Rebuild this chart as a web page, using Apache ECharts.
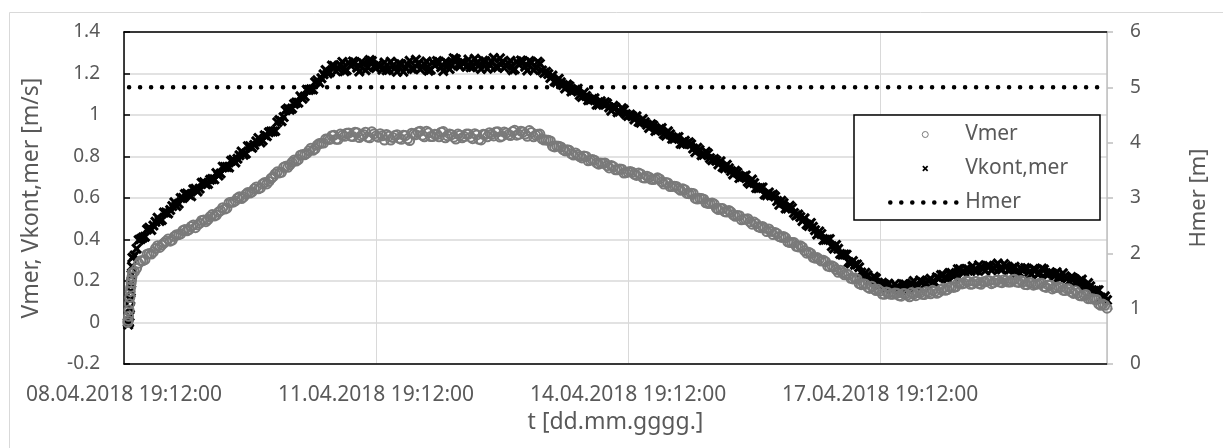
<!DOCTYPE html>
<html><head><meta charset="utf-8">
<script src="https://cdn.jsdelivr.net/npm/echarts@6/dist/echarts.min.js"></script>
<style>html,body{margin:0;padding:0;background:#fff}#c{width:1223px;height:448px}</style>
</head><body><div id="c"></div>
<script>
// time axis: days since 08.04.2018 19:12:00
const xTickLabels = ['08.04.2018 19:12:00','11.04.2018 19:12:00','14.04.2018 19:12:00','17.04.2018 19:12:00'];
const xMin = 0, xMax = 11.7, xInterval = 3;
const yLeftTicks = [-0.2, 0, 0.2, 0.4, 0.6, 0.8, 1, 1.2, 1.4];
const yRightTicks = [0, 1, 2, 3, 4, 5, 6];

// initial steep rise (days, values)
const rampT     = [0.045, 0.05, 0.055, 0.06, 0.065, 0.07, 0.075, 0.08, 0.085, 0.09, 0.095];
const rampVmer  = [0.0, 0.01, 0.03, 0.06, 0.09, 0.12, 0.15, 0.17, 0.19, 0.205, 0.22];
const rampVkont = [0.0, -0.01, 0.005, 0.0, 0.03, 0.07, 0.11, 0.15, 0.19, 0.23, 0.27];

// samples A: from tA with step dt (days); samples B: from tB with step dt
const tA = 0.10, tB = 0.125, dt = 0.05;
const vmer = [
0.241,0.261,0.298,0.303,0.332,0.34,0.37,0.373,0.392,0.392,
0.415,0.423,0.443,0.442,0.463,0.457,0.478,0.494,0.496,0.52,
0.518,0.539,0.547,0.577,0.58,0.599,0.597,0.618,0.624,0.644,
0.644,0.668,0.668,0.694,0.716,0.721,0.748,0.748,0.772,0.778,
0.806,0.808,0.828,0.83,0.855,0.864,0.884,0.882,0.903,0.883,
0.902,0.912,0.898,0.917,0.891,0.906,0.894,0.919,0.899,0.91,
0.879,0.898,0.891,0.905,0.883,0.901,0.877,0.909,0.918,0.902,
0.922,0.896,0.907,0.895,0.92,0.90,0.905,0.884,0.903,0.896,
0.908,0.886,0.904,0.88,0.906,0.915,0.899,0.919,0.898,0.913,
0.901,0.926,0.907,0.918,0.897,0.916,0.903,0.908,0.879,0.878,
0.85,0.851,0.846,0.827,0.83,0.807,0.808,0.793,0.80,0.782,
0.782,0.763,0.768,0.756,0.757,0.736,0.74,0.72,0.725,0.724,
0.709,0.716,0.696,0.70,0.689,0.697,0.678,0.675,0.655,0.657,
0.645,0.644,0.622,0.623,0.598,0.599,0.594,0.574,0.576,0.551,
0.55,0.534,0.54,0.519,0.516,0.495,0.498,0.485,0.484,0.461,
0.463,0.438,0.439,0.434,0.414,0.415,0.389,0.386,0.367,0.37,
0.346,0.339,0.314,0.313,0.296,0.293,0.269,0.268,0.242,0.241,
0.235,0.213,0.214,0.188,0.187,0.17,0.175,0.154,0.152,0.136,
0.143,0.136,0.141,0.127,0.138,0.124,0.137,0.144,0.136,0.15,
0.138,0.15,0.146,0.165,0.158,0.172,0.172,0.189,0.189,0.198,
0.186,0.198,0.184,0.196,0.201,0.192,0.205,0.192,0.202,0.195,
0.208,0.193,0.196,0.182,0.19,0.184,0.189,0.173,0.181,0.162,
0.169,0.169,0.154,0.161,0.14,0.142,0.128,0.135,0.115,0.112,
0.09,0.089,0.069
];
const vmerB = [
0.245,0.285,0.298,0.329,0.33,0.357,0.362,0.383,0.402,0.397,
0.423,0.427,0.448,0.448,0.47,0.47,0.492,0.486,0.51,0.513,
0.532,0.553,0.551,0.58,0.586,0.606,0.605,0.627,0.629,0.653,
0.649,0.675,0.68,0.703,0.726,0.724,0.753,0.76,0.783,0.785,
0.81,0.815,0.84,0.837,0.863,0.865,0.884,0.90,0.883,0.908,
0.897,0.913,0.896,0.914,0.90,0.917,0.89,0.909,0.893,0.90,
0.906,0.879,0.901,0.888,0.903,0.885,0.912,0.905,0.922,0.895,
0.914,0.896,0.906,0.917,0.89,0.909,0.893,0.908,0.89,0.908,
0.893,0.91,0.883,0.907,0.895,0.907,0.918,0.894,0.918,0.905,
0.92,0.903,0.922,0.908,0.925,0.895,0.907,0.885,0.88,0.875,
0.846,0.85,0.833,0.833,0.813,0.817,0.80,0.803,0.779,0.785,
0.769,0.769,0.769,0.745,0.751,0.736,0.739,0.722,0.728,0.714,
0.72,0.698,0.705,0.69,0.692,0.692,0.667,0.672,0.656,0.656,
0.637,0.64,0.621,0.622,0.595,0.597,0.577,0.574,0.571,0.544,
0.549,0.532,0.532,0.512,0.515,0.497,0.50,0.474,0.476,0.457,
0.454,0.451,0.424,0.428,0.41,0.408,0.385,0.385,0.364,0.363,
0.334,0.333,0.31,0.305,0.30,0.272,0.274,0.255,0.252,0.23,
0.23,0.21,0.21,0.182,0.184,0.164,0.162,0.16,0.137,0.147,
0.136,0.142,0.129,0.14,0.132,0.144,0.129,0.143,0.135,0.145,
0.155,0.141,0.158,0.155,0.17,0.169,0.19,0.186,0.20,0.184,
0.197,0.188,0.196,0.203,0.187,0.202,0.195,0.206,0.195,0.206,
0.195,0.203,0.183,0.193,0.18,0.185,0.189,0.169,0.179,0.167,
0.172,0.156,0.163,0.148,0.153,0.129,0.133,0.115,0.114,0.111,
0.083,0.083
];
const vkont = [
0.312,0.356,0.403,0.413,0.457,0.467,0.505,0.494,0.53,0.542,
0.579,0.572,0.60,0.622,0.609,0.644,0.645,0.676,0.668,0.692,
0.72,0.718,0.749,0.747,0.784,0.789,0.824,0.814,0.85,0.856,
0.889,0.877,0.898,0.921,0.923,0.976,0.99,1.031,1.031,1.06,
1.09,1.089,1.121,1.123,1.167,1.177,1.217,1.206,1.236,1.223,
1.256,1.216,1.238,1.253,1.21,1.248,1.23,1.26,1.226,1.237,
1.253,1.218,1.238,1.208,1.245,1.228,1.261,1.222,1.248,1.23,
1.258,1.218,1.24,1.255,1.212,1.25,1.239,1.269,1.235,1.251,
1.267,1.232,1.252,1.222,1.259,1.242,1.275,1.229,1.255,1.237,
1.261,1.221,1.243,1.258,1.215,1.253,1.227,1.247,1.203,1.197,
1.19,1.157,1.158,1.128,1.139,1.118,1.127,1.087,1.092,1.072,
1.081,1.049,1.054,1.055,1.021,1.036,1.017,1.025,0.995,0.994,
0.994,0.963,0.965,0.937,0.949,0.928,0.937,0.90,0.907,0.886,
0.894,0.86,0.863,0.859,0.821,0.831,0.808,0.814,0.782,0.779,
0.777,0.743,0.743,0.713,0.723,0.701,0.709,0.669,0.672,0.647,
0.651,0.613,0.612,0.607,0.567,0.576,0.55,0.552,0.516,0.508,
0.502,0.465,0.461,0.424,0.427,0.399,0.402,0.356,0.355,0.327,
0.327,0.284,0.278,0.266,0.22,0.228,0.205,0.213,0.183,0.184,
0.187,0.163,0.173,0.158,0.183,0.177,0.20,0.175,0.195,0.189,
0.211,0.193,0.213,0.229,0.209,0.238,0.233,0.257,0.243,0.257,
0.271,0.252,0.266,0.249,0.272,0.263,0.284,0.256,0.271,0.256,
0.269,0.242,0.252,0.259,0.232,0.253,0.24,0.255,0.231,0.236,
0.242,0.216,0.223,0.198,0.213,0.195,0.207,0.169,0.175,0.152,
0.156,0.115,0.108
];
const vkontB = [
0.323,0.397,0.41,0.448,0.446,0.485,0.489,0.53,0.525,0.561,
0.561,0.60,0.619,0.614,0.642,0.631,0.673,0.666,0.688,0.69,
0.708,0.751,0.75,0.779,0.771,0.806,0.808,0.85,0.842,0.873,
0.868,0.902,0.917,0.92,0.965,0.97,1.023,1.025,1.053,1.059,
1.078,1.122,1.124,1.158,1.156,1.196,1.20,1.238,1.211,1.241,
1.211,1.252,1.258,1.228,1.255,1.216,1.265,1.233,1.245,1.218,
1.216,1.257,1.226,1.248,1.209,1.243,1.223,1.266,1.22,1.245,
1.213,1.254,1.26,1.23,1.257,1.222,1.274,1.242,1.256,1.232,
1.23,1.271,1.24,1.262,1.223,1.257,1.233,1.273,1.227,1.25,
1.216,1.257,1.263,1.233,1.26,1.217,1.257,1.215,1.208,1.178,
1.162,1.175,1.145,1.147,1.113,1.122,1.096,1.108,1.071,1.077,
1.05,1.066,1.062,1.036,1.044,1.013,1.033,1.004,1.002,0.978,
0.967,0.981,0.953,0.956,0.923,0.932,0.908,0.922,0.885,0.891,
0.862,0.876,0.869,0.838,0.842,0.806,0.823,0.792,0.788,0.762,
0.749,0.76,0.73,0.731,0.696,0.704,0.678,0.689,0.648,0.65,
0.617,0.627,0.617,0.585,0.587,0.55,0.563,0.528,0.52,0.489,
0.472,0.48,0.445,0.439,0.397,0.40,0.368,0.374,0.33,0.328,
0.291,0.296,0.28,0.241,0.24,0.203,0.221,0.192,0.191,0.17,
0.164,0.185,0.168,0.184,0.164,0.188,0.177,0.203,0.181,0.201,
0.187,0.218,0.229,0.217,0.239,0.222,0.257,0.244,0.258,0.248,
0.25,0.276,0.26,0.274,0.252,0.273,0.259,0.282,0.252,0.263,
0.241,0.262,0.263,0.244,0.258,0.233,0.26,0.237,0.241,0.223,
0.218,0.237,0.213,0.219,0.188,0.20,0.177,0.19,0.152,0.155,
0.121,0.126
];
// water level (right axis)
const hmerT = [0.06, 11.7];
const hmerV = [5, 5];

function build(rampV, a, b) {
  const out = rampT.map((t, i) => [t, rampV[i]]);
  a.forEach((v, i) => out.push([+(tA + dt * i).toFixed(3), v]));
  b.forEach((v, i) => out.push([+(tB + dt * i).toFixed(3), v]));
  return out;
}
const vmerData = build(rampVmer, vmer, vmerB);
const vkontData = build(rampVkont, vkont, vkontB);
const hmerData = hmerT.map((t, i) => [t, hmerV[i]]);

const TXT = '#595959', GRID = '#d9d9d9', FONT = 'Noto Sans';
const xShape = 'path://M0,2 L2,0 L5,3 L8,0 L10,2 L7,5 L10,8 L8,10 L5,7 L2,10 L0,8 L3,5 Z';
const dotLine = {color: '#000', width: 4.5, type: [0.1, 10.9], cap: 'round'};

const chart = echarts.init(document.getElementById('c'), null, {renderer: 'canvas'});
chart.setOption({
  animation: false,
  backgroundColor: '#fff',
  textStyle: {fontFamily: FONT},
  grid: {left: 124, right: 116, top: 32, bottom: 84, containLabel: false},
  graphic: {elements: [
    {type: 'rect', left: 7, top: 10, z: -1, silent: true,
     shape: {x: 0, y: 0, width: 1240, height: 460},
     style: {fill: 'none', stroke: '#d9d9d9', lineWidth: 1}},
    {type: 'rect', z: 3, silent: true,
     shape: {x: 854, y: 115, width: 246, height: 105},
     style: {fill: '#fff', stroke: '#000', lineWidth: 1.5}}
  ]},
  legend: {
    orient: 'vertical', left: 888, top: 124, padding: 0,
    itemWidth: 70, itemHeight: 6, itemGap: 13, symbolKeepAspect: true,
    data: [
      {name: 'Vmer', itemStyle: {borderWidth: 1}},
      {name: 'Vkont,mer'},
      {name: 'Hmer', itemStyle: {opacity: 0}, lineStyle: dotLine}
    ],
    textStyle: {color: TXT, fontSize: 21, lineHeight: 21, fontFamily: FONT}
  },
  xAxis: [{
    type: 'value', min: xMin, max: xMax, interval: xInterval, position: 'bottom',
    name: 't [dd.mm.gggg.]', nameLocation: 'middle', nameGap: 47,
    nameTextStyle: {color: TXT, fontSize: 23, fontFamily: FONT},
    axisLine: {show: true, onZero: false, lineStyle: {color: '#000', width: 1.5}},
    axisTick: {show: false},
    splitLine: {show: true, lineStyle: {color: GRID, width: 1}},
    axisLabel: {color: TXT, fontSize: 21, margin: 21, showMaxLabel: false, fontFamily: FONT,
      formatter: v => xTickLabels[Math.round(v / xInterval)] || ''}
  }, {
    type: 'value', min: xMin, max: xMax, position: 'top',
    axisLine: {show: true, onZero: false, lineStyle: {color: '#000', width: 1.5}},
    axisTick: {show: false}, axisLabel: {show: false}, splitLine: {show: false}
  }],
  yAxis: [{
    type: 'value', min: yLeftTicks[0], max: yLeftTicks[yLeftTicks.length - 1], interval: 0.2,
    position: 'left',
    name: 'Vmer, Vkont,mer [m/s]', nameLocation: 'middle', nameGap: 81,
    nameTextStyle: {color: TXT, fontSize: 23, fontFamily: FONT},
    axisLine: {show: true, onZero: false, lineStyle: {color: '#000', width: 1.5}},
    axisTick: {show: true, inside: true, length: 6, lineStyle: {color: '#000', width: 1.5}},
    splitLine: {show: true, lineStyle: {color: GRID, width: 1.5}},
    axisLabel: {color: TXT, fontSize: 19, margin: 24, fontFamily: FONT,
      formatter: v => String(Math.round(v * 10) / 10)}
  }, {
    type: 'value', min: yRightTicks[0], max: yRightTicks[yRightTicks.length - 1], interval: 1,
    position: 'right',
    name: 'Hmer [m]', nameLocation: 'middle', nameGap: 81,
    nameTextStyle: {color: TXT, fontSize: 22, fontFamily: FONT},
    axisLine: {show: true, onZero: false, lineStyle: {color: '#bfbfbf', width: 1.5}},
    axisTick: {show: true, inside: false, length: 6, lineStyle: {color: '#bfbfbf', width: 1.5}},
    splitLine: {show: false},
    axisLabel: {color: TXT, fontSize: 19, margin: 23, fontFamily: FONT}
  }],
  series: [{
    name: 'Vkont,mer', type: 'scatter', xAxisIndex: 0, yAxisIndex: 0,
    symbol: xShape, symbolSize: 11, symbolKeepAspect: true,
    itemStyle: {color: '#000', opacity: 1},
    data: vkontData, z: 2
  }, {
    name: 'Vmer', type: 'scatter', xAxisIndex: 0, yAxisIndex: 0,
    symbol: 'circle', symbolSize: 9, symbolKeepAspect: true,
    itemStyle: {color: 'rgba(255,255,255,0)', borderColor: '#7a7a7a', borderWidth: 2, opacity: 1},
    data: vmerData, z: 2
  }, {
    name: 'Hmer', type: 'line', xAxisIndex: 0, yAxisIndex: 1,
    symbol: 'none', data: hmerData, z: 2,
    lineStyle: dotLine,
    itemStyle: {color: '#000'}
  }]
});
</script></body></html>
